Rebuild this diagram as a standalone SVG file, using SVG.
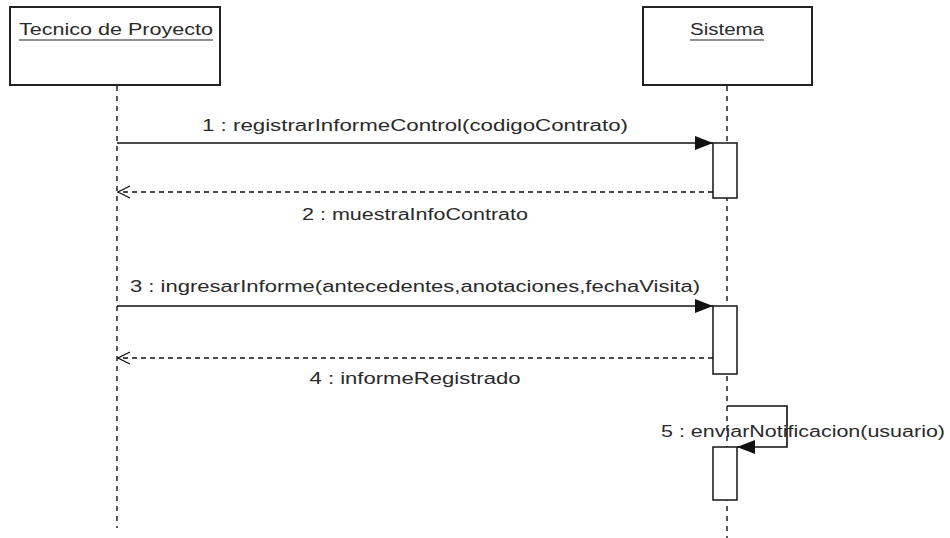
<svg xmlns="http://www.w3.org/2000/svg" width="950" height="538" viewBox="0 0 950 538">
<defs>
<style>
.box{fill:#fff;stroke:#222;stroke-width:2}
.act{fill:#fff;stroke:#222;stroke-width:1.6}
.life{stroke:#222;stroke-width:1.5;stroke-dasharray:5 5;fill:none}
.msg{stroke:#111;stroke-width:1.6;fill:none}
.ret{stroke:#111;stroke-width:1.3;stroke-dasharray:5 4;fill:none}
text{font-family:"Liberation Sans",Arial,sans-serif;font-size:16px;fill:#2a2a2a}
.ul{stroke:#222;stroke-width:1.2}
</style>
<marker id="filled" viewBox="0 0 18 14" refX="18" refY="7" markerWidth="18" markerHeight="14" markerUnits="userSpaceOnUse" orient="auto">
<path d="M0,0 L18,7 L0,14 Z" fill="#111"/>
</marker>
<marker id="open" viewBox="0 0 14 14" refX="13" refY="7" markerWidth="14" markerHeight="14" markerUnits="userSpaceOnUse" orient="auto">
<path d="M1,1 L13,7 L1,13" fill="none" stroke="#111" stroke-width="1.3"/>
</marker>
</defs>
<g id="lifelines">
<line class="life" x1="117" y1="86" x2="117" y2="528"/>
<line class="life" x1="727" y1="86" x2="727" y2="538"/>
</g>
<g id="tecnico">
<rect class="box" x="10" y="7" width="210" height="78"/>
<text x="116" y="35" text-anchor="middle" textLength="194" lengthAdjust="spacingAndGlyphs">Tecnico de Proyecto</text>
<line class="ul" x1="19" y1="40" x2="213" y2="40"/>
</g>
<g id="sistema">
<rect class="box" x="643" y="7" width="169" height="78"/>
<text x="727" y="35" text-anchor="middle" textLength="74" lengthAdjust="spacingAndGlyphs">Sistema</text>
<line class="ul" x1="690" y1="40" x2="764" y2="40"/>
</g>
<g id="activations">
<rect class="act" x="713" y="143" width="24" height="55"/>
<rect class="act" x="713" y="306" width="24" height="68"/>
<rect class="act" x="713" y="447" width="24" height="53"/>
</g>
<g id="connectors">
<line class="msg" x1="117" y1="143" x2="713" y2="143" marker-end="url(#filled)"/>
<line class="ret" x1="713" y1="192" x2="118" y2="192" marker-end="url(#open)"/>
<line class="msg" x1="117" y1="306" x2="713" y2="306" marker-end="url(#filled)"/>
<line class="ret" x1="713" y1="358" x2="118" y2="358" marker-end="url(#open)"/>
<polyline class="msg" points="727,406 787,406 787,447 737,447" marker-end="url(#filled)"/>
</g>
<g id="labels">
<text x="415" y="131" text-anchor="middle" textLength="426" lengthAdjust="spacingAndGlyphs">1 : registrarInformeControl(codigoContrato)</text>
<text x="415" y="220" text-anchor="middle" textLength="226" lengthAdjust="spacingAndGlyphs">2 : muestraInfoContrato</text>
<text x="415" y="292" text-anchor="middle" textLength="570" lengthAdjust="spacingAndGlyphs">3 : ingresarInforme(antecedentes,anotaciones,fechaVisita)</text>
<text x="415" y="384" text-anchor="middle" textLength="211" lengthAdjust="spacingAndGlyphs">4 : informeRegistrado</text>
<text x="661" y="437" textLength="284" lengthAdjust="spacingAndGlyphs">5 : enviarNotificacion(usuario)</text>
</g>
</svg>
